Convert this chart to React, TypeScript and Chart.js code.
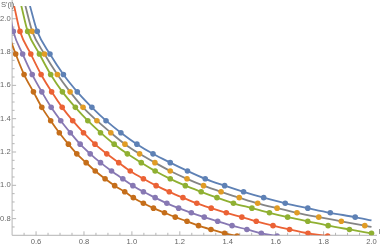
import React, { useEffect, useRef } from "react";
import { Chart, registerables } from "chart.js";

Chart.register(...registerables);

// S'(l) levels shared by the dot rows (top to bottom)
const levels = [1.924, 1.788, 1.665, 1.561, 1.468, 1.388, 1.316, 1.247, 1.189, 1.136, 1.086, 1.039, 0.998, 0.961, 0.926, 0.892, 0.863, 0.835, 0.809, 0.784, 0.758, 0.735, 0.712, 0.696];

// l positions of the dots, one array per series
const lBlue = [0.605, 0.658, 0.714, 0.772, 0.833, 0.892, 0.954, 1.021, 1.088, 1.160, 1.232, 1.306, 1.387, 1.466, 1.550, 1.640, 1.734, 1.828, 1.932];
const lOrange = [0.584, 0.635, 0.689, 0.742, 0.796, 0.854, 0.912, 0.971, 1.032, 1.096, 1.160, 1.230, 1.299, 1.372, 1.448, 1.525, 1.606, 1.689, 1.780, 1.874, 1.972];
const lGreen = [0.565, 0.614, 0.661, 0.710, 0.764, 0.816, 0.869, 0.926, 0.981, 1.039, 1.097, 1.160, 1.223, 1.289, 1.355, 1.424, 1.501, 1.574, 1.650, 1.734, 1.819, 1.908, 2.0];
const lRed = [0.533, 0.578, 0.621, 0.665, 0.709, 0.753, 0.798, 0.846, 0.895, 0.945, 0.993, 1.048, 1.101, 1.156, 1.213, 1.271, 1.331, 1.394, 1.459, 1.519, 1.589, 1.658, 1.735, 1.817];
const lPurple = [0.505, 0.544, 0.584, 0.624, 0.663, 0.703, 0.743, 0.784, 0.826, 0.869, 0.915, 0.962, 1.004, 1.048, 1.097, 1.146, 1.195, 1.248, 1.302, 1.358, 1.418, 1.480, 1.540, 1.606];
const lBrown = [0.482, 0.515, 0.550, 0.589, 0.624, 0.661, 0.697, 0.735, 0.770, 0.809, 0.847, 0.888, 0.928, 0.970, 1.006, 1.048, 1.090, 1.136, 1.181, 1.230, 1.278, 1.330, 1.387, 1.439];

// where each curve leaves the top of the frame, and where it ends at l = 2
const topLevel = 2.08;
const topL = [0.574, 0.555, 0.538, 0.508, 0.484, 0.457];
const endL = 2.0;
const endLevel = [0.789, 0.750, null, null, null, null];

const xTicks = [0.6, 0.8, 1.0, 1.2, 1.4, 1.6, 1.8, 2.0];
const yTicks = [0.8, 1.0, 1.2, 1.4, 1.6, 1.8, 2.0];

const seriesL = [lBlue, lOrange, lGreen, lRed, lPurple, lBrown];
const dotColors = ["#5E81B5", "#E19C24", "#8FB032", "#EB6235", "#8778B3", "#C56E1A"];
const lineColors = ["#5E81B5", "#858585", "#8FB032", "#EB6235", "#8778B3", "#C56E1A"];

const AXIS = "#b5b5b5";
const LABEL = "#666666";
const FONT = "Liberation Sans";

const axesPlugin = {
  id: "mmaAxes",
  beforeDatasetsDraw(chart: any) {
    const { ctx, chartArea, scales } = chart;
    const xs = scales.x;
    const ys = scales.y;
    const left = chartArea.left;
    const bottom = chartArea.bottom;
    ctx.save();
    ctx.strokeStyle = AXIS;
    ctx.lineWidth = 1;
    ctx.beginPath();
    ctx.moveTo(left, 0);
    ctx.lineTo(left, bottom);
    ctx.moveTo(left, bottom);
    ctx.lineTo(377, bottom);
    ctx.stroke();
    ctx.beginPath();
    for (let k = 15; k <= 41; k++) {
      const v = k * 0.05;
      const py = ys.getPixelForValue(v);
      const len = k % 4 === 0 ? 4 : 2.5;
      ctx.moveTo(left, py);
      ctx.lineTo(left + len, py);
    }
    for (let k = 11; k <= 40; k++) {
      const v = k * 0.05;
      const px = xs.getPixelForValue(v);
      const len = k % 4 === 0 ? 4 : 2.5;
      ctx.moveTo(px, bottom);
      ctx.lineTo(px, bottom - len);
    }
    ctx.stroke();
    ctx.restore();
  },
  afterDraw(chart: any) {
    const { ctx, chartArea } = chart;
    ctx.save();
    ctx.fillStyle = LABEL;
    ctx.font = `7.6px "${FONT}"`;
    ctx.textBaseline = "alphabetic";
    ctx.textAlign = "left";
    ctx.fillText("S'(l)", 1, 6.5);
    ctx.fillText("l", 378.5, chartArea.bottom - 1.5);
    ctx.restore();
  },
};

export default function App() {
  const ref = useRef<HTMLCanvasElement | null>(null);

  useEffect(() => {
    document.body.style.margin = "0";
    const canvas = ref.current;
    if (!canvas) return;

    const datasets = seriesL.map((ls, i) => {
      const pts: { x: number; y: number }[] = [{ x: topL[i], y: topLevel }];
      const radii: number[] = [0];
      ls.forEach((l, j) => {
        pts.push({ x: l, y: levels[j] });
        radii.push(2.8);
      });
      const e = endLevel[i];
      if (e !== null) {
        pts.push({ x: endL, y: e });
        radii.push(0);
      }
      return {
        data: pts,
        showLine: true,
        borderColor: lineColors[i],
        borderWidth: 1.8,
        backgroundColor: dotColors[i],
        pointBackgroundColor: dotColors[i],
        pointBorderWidth: 0,
        pointRadius: radii,
        pointHoverRadius: radii,
        cubicInterpolationMode: "monotone" as const,
        clip: { left: 0, top: 0, right: 6, bottom: 0 },
      };
    });

    const chart = new Chart(canvas, {
      type: "scatter",
      data: { datasets },
      options: {
        responsive: false,
        devicePixelRatio: 1,
        animation: false,
        events: [],
        layout: { padding: { left: 0, top: 0, right: 9.5, bottom: 0 } },
        plugins: { legend: { display: false }, tooltip: { enabled: false } },
        scales: {
          x: {
            type: "linear",
            min: 0.5,
            max: 2.0,
            afterBuildTicks: (s: any) => {
              s.ticks = xTicks.map((v) => ({ value: v }));
            },
            afterFit: (s: any) => {
              s.height = 11.7;
            },
            grid: { display: false, drawTicks: false },
            border: { display: false },
            ticks: {
              autoSkip: false,
              maxRotation: 0,
              padding: 2,
              color: LABEL,
              font: { family: FONT, size: 7.6 },
              callback: (v: any) => Number(v).toFixed(1),
            },
          },
          y: {
            type: "linear",
            min: 0.7,
            max: 2.076,
            afterBuildTicks: (s: any) => {
              s.ticks = yTicks.map((v) => ({ value: v }));
            },
            afterFit: (s: any) => {
              s.width = 12.1;
            },
            grid: { display: false, drawTicks: false },
            border: { display: false },
            ticks: {
              autoSkip: false,
              padding: 1.5,
              color: LABEL,
              font: { family: FONT, size: 7.6 },
              callback: (v: any) => Number(v).toFixed(1),
            },
          },
        },
      },
      plugins: [axesPlugin],
    });

    return () => chart.destroy();
  }, []);

  return (
    <div style={{ position: "fixed", left: 0, top: 0, width: 381, height: 247 }}>
      <canvas ref={ref} width={381} height={247} style={{ display: "block", width: 381, height: 247 }} />
    </div>
  );
}
